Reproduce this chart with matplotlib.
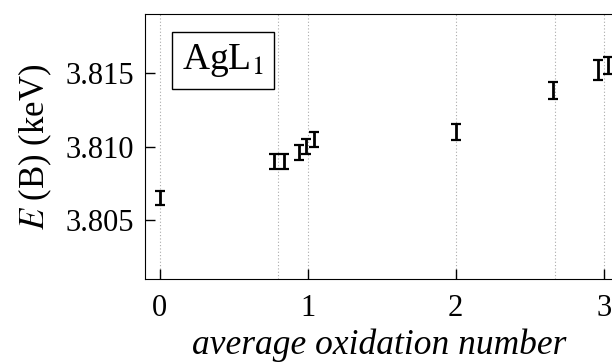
import matplotlib
matplotlib.use("Agg")
import matplotlib.pyplot as plt

# average oxidation number vs E(B) for AgL1
ox = [0.0, 0.77, 0.84, 0.94, 0.99, 1.04, 2.0, 2.66, 2.96, 3.03]
energy = [3.8065, 3.8090, 3.8090, 3.8096, 3.8100, 3.8105, 3.8110, 3.8138, 3.8152, 3.8155]
err = [0.0005, 0.0005, 0.0005, 0.0005, 0.0005, 0.0005, 0.00055, 0.00055, 0.0007, 0.0006]
grid_x = [0, 0.8, 1, 2, 2.67, 3]
yticks = [3.805, 3.810, 3.815]
xticks = [0, 1, 2, 3]

plt.rcParams['font.family'] = ['Liberation Serif', 'DejaVu Serif']
plt.rcParams['mathtext.fontset'] = 'stix'

fig = plt.figure(figsize=(6.12, 3.64), dpi=100)
ax = fig.add_axes([0.237, 0.2335, 0.863, 0.728])

for gx in grid_x:
    ax.axvline(gx, color='#aaaaaa', lw=0.8, ls=(0, (1, 2)), zorder=0)

ax.errorbar(ox, energy, yerr=err, fmt='none', ecolor='black', elinewidth=2,
            capsize=3.5, capthick=1.6)

ax.set_xlim(-0.1, 3.47)
ax.set_ylim(3.801, 3.819)
ax.set_xticks(xticks)
ax.set_yticks(yticks)
ax.set_yticklabels(['3.805', '3.810', '3.815'])
ax.tick_params(direction='in', length=7, width=1, labelsize=22, pad=8)
ax.tick_params(axis='x', pad=11)

ax.set_xlabel('average oxidation number', fontsize=25.5, style='italic')
ax.xaxis.set_label_coords(0.443, -0.185)
ax.set_ylabel('$E$ (B) (keV)', fontsize=25, labelpad=8)

ax.text(0.148, 0.825, 'AgL$_1$', transform=ax.transAxes, fontsize=27,
        ha='center', va='center',
        bbox=dict(boxstyle='square,pad=0.27', fc='white', ec='black', lw=1))

fig.savefig('out.png', dpi=100)
